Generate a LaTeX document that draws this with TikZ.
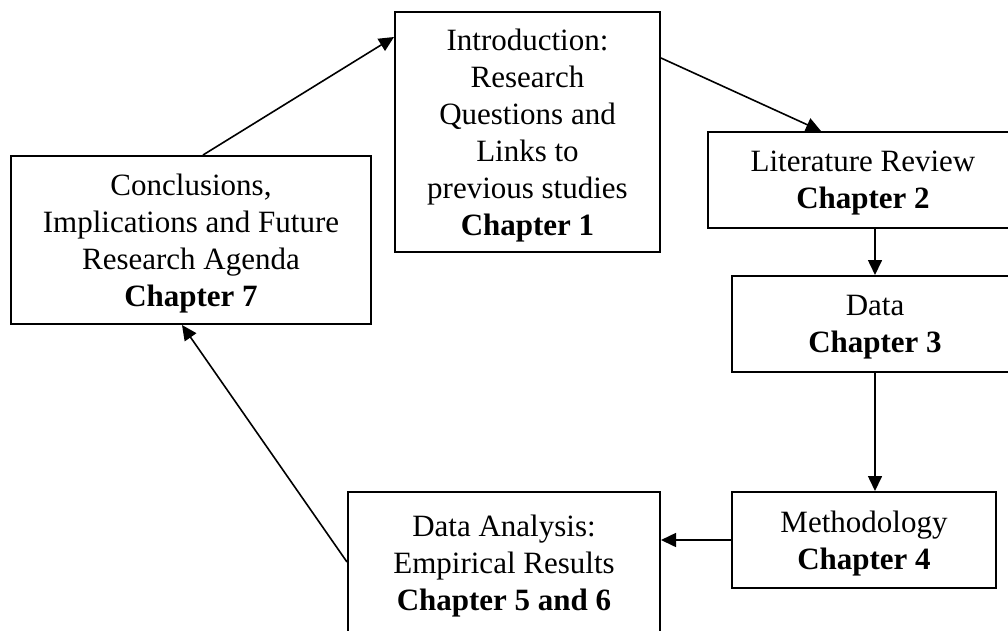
\documentclass[tikz,border=0pt]{standalone}
\usepackage{fontspec}
\setmainfont{Liberation Serif}
\usetikzlibrary{arrows.meta,calc}
\begin{document}
\begin{tikzpicture}[x=1pt,y=-1pt,
  chap/.style={draw=black, line width=2pt, fill=white, inner sep=0pt, align=center,
    anchor=north west, text depth=0pt, font=\fontsize{31}{37}\selectfont},
  link/.style={line width=1.6pt, -{Triangle[length=15pt,width=14pt]}}]
\useasboundingbox (0,0) rectangle (1008,630);
% Chapter boxes, placed by their top-left corners
\node[chap, minimum width=360pt, minimum height=168pt] (conc) at (10,155)
  {Conclusions,\\Implications and Future\\Research Agenda\\\textbf{Chapter 7}};
\node[chap, minimum width=265pt, minimum height=240pt] (intro) at (394,11)
  {Introduction:\\Research\\Questions and\\Links to\\previous studies\\\textbf{Chapter 1}};
\node[chap, minimum width=310pt, minimum height=96pt] (lit) at (707,131)
  {Literature Review\\\textbf{Chapter 2}};
\node[chap, minimum width=286pt, minimum height=96pt] (data) at (731,275)
  {Data\\\textbf{Chapter 3}};
\node[chap, minimum width=264pt, minimum height=96pt] (meth) at (731,491)
  {Methodology\\\textbf{Chapter 4}};
\node[chap, minimum width=312pt, minimum height=141pt] (anal) at (347,491)
  {Data Analysis:\\Empirical Results\\\textbf{Chapter 5 and 6}};
% Connectors between the chapters
\draw[link] ($(conc.north west)+(193,0)$) -- ($(intro.north west)+(0,26)$);
\draw[link] ($(intro.north east)+(0,47)$) -- ($(lit.north west)+(114,0)$);
\draw[link] ($(lit.south west)+(168,0)$) -- ($(data.north west)+(144,0)$);
\draw[link] ($(data.south west)+(144,0)$) -- ($(meth.north west)+(144,0)$);
\draw[link] (meth.west) -- (meth.west -| anal.east);
\draw[link] ($(anal.north west)+(0,71)$) -- ($(conc.south west)+(172,0)$);
\end{tikzpicture}
\end{document}
